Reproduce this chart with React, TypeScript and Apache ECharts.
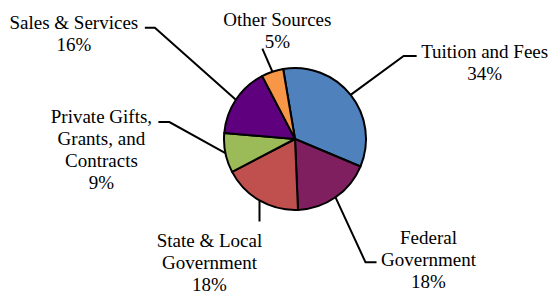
import React, { useEffect, useRef } from "react";
import * as echarts from "echarts";

const categories = [
  "Tuition and Fees",
  "Federal\nGovernment",
  "State & Local\nGovernment",
  "Private Gifts,\nGrants, and\nContracts",
  "Sales & Services",
  "Other Sources",
];
const shares = [34, 18, 18, 9, 16, 5];
const colors = ["#4F81BD", "#7F1F5F", "#C0504D", "#9BBB59", "#5F007F", "#F79646"];

const FONT = "Liberation Serif";

// leader-line / label offsets relative to the slice's edge point (style only)
const leaderStyle: { elbow: number[]; tail: number[]; label: number[] }[] = [
  { elbow: [53, -39], tail: [66, -39], label: [134, -32] },
  { elbow: [30, 65], tail: [41, 65], label: [93, 62] },
  { elbow: [0, 21], tail: [0, 21], label: [-50, 62.5] },
  { elbow: [-56, -31], tail: [-67, -31], label: [-124, -4] },
  { elbow: [-81, -72], tail: [-91, -72], label: [-162, -66] },
  { elbow: [-10, -23], tail: [-10, -23], label: [5, -41] },
];

export default function App() {
  const ref = useRef<HTMLDivElement>(null);
  useEffect(() => {
    if (!ref.current) return;
    const chart = echarts.init(ref.current, null, { renderer: "svg" });
    chart.setOption({
      animation: false,
      backgroundColor: "#ffffff",
      textStyle: { fontFamily: FONT },
      series: [
        {
          type: "pie",
          center: [295, 139],
          radius: 71,
          startAngle: 99.6,
          clockwise: true,
          avoidLabelOverlap: false,
          percentPrecision: 0,
          emphasis: { disabled: true },
          itemStyle: { borderColor: "#000", borderWidth: 2 },
          label: {
            show: true,
            position: "outside",
            formatter: "{b}\n{d}%",
            color: "#000",
            fontFamily: FONT,
            fontSize: 19,
            lineHeight: 22,
          },
          labelLine: {
            show: true,
            length: 20,
            length2: 10,
            lineStyle: { color: "#000", width: 2 },
          },
          labelLayout: (params: any) => {
            const s = leaderStyle[params.dataIndex];
            const p0 = params.labelLinePoints ? params.labelLinePoints[0] : [0, 0];
            const pts = [
              [p0[0], p0[1]],
              [p0[0] + s.elbow[0], p0[1] + s.elbow[1]],
              [p0[0] + s.tail[0], p0[1] + s.tail[1]],
            ];
            return {
              x: p0[0] + s.label[0],
              y: p0[1] + s.label[1],
              align: "center",
              verticalAlign: "middle",
              labelLinePoints: pts,
            };
          },
          data: categories.map((name, i) => ({
            name,
            value: shares[i],
            itemStyle: { color: colors[i] },
          })),
        },
      ],
    });
    return () => chart.dispose();
  }, []);
  return (
    <div
      ref={ref}
      style={{ position: "fixed", left: 0, top: 0, width: 551, height: 293 }}
    />
  );
}
